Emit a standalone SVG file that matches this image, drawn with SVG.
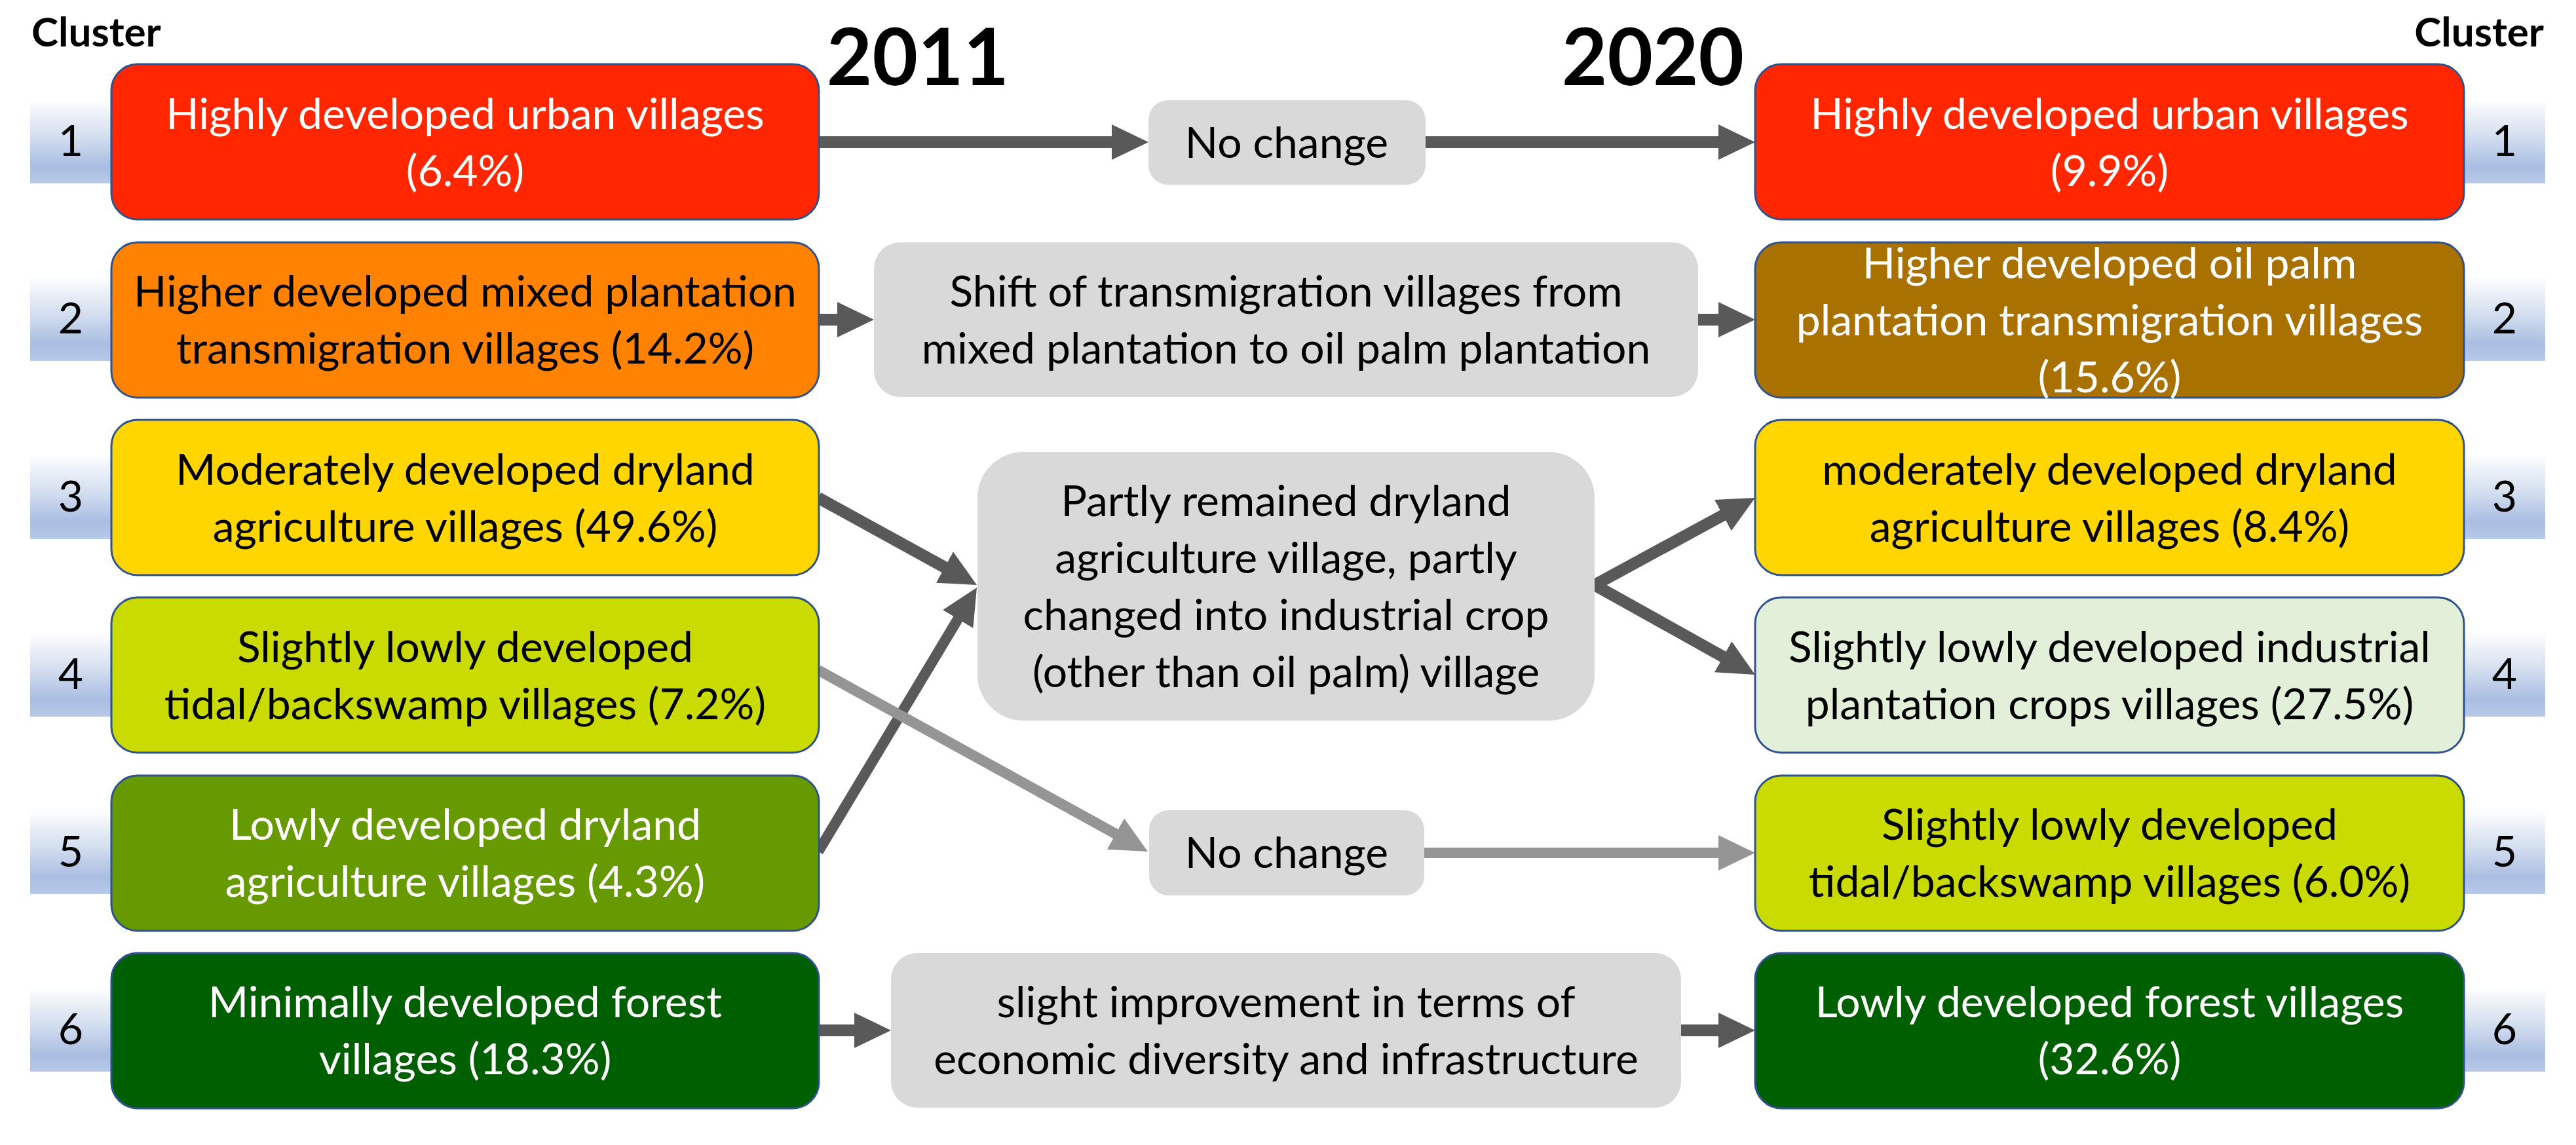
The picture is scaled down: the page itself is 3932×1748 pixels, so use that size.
<svg xmlns="http://www.w3.org/2000/svg" width="3932" height="1748" viewBox="0 0 3932 1748">
<defs>
<linearGradient id="tabg" x1="0" y1="0" x2="0" y2="1">
<stop offset="0" stop-color="#ffffff"/>
<stop offset="0.45" stop-color="#d3deef"/>
<stop offset="0.8" stop-color="#aabee2"/>
<stop offset="1" stop-color="#b8c9e8"/>
</linearGradient>
<marker id="hd" markerUnits="userSpaceOnUse" markerWidth="56" markerHeight="54" viewBox="0 0 56 54" refX="1" refY="27" orient="auto-start-reverse"><path d="M0,0 L56,27 L0,54 z" fill="#595959"/></marker>
<marker id="hl" markerUnits="userSpaceOnUse" markerWidth="56" markerHeight="54" viewBox="0 0 56 54" refX="1" refY="27" orient="auto-start-reverse"><path d="M0,0 L56,27 L0,54 z" fill="#959595"/></marker>
</defs>
<style>
.t{font-family:Lato,"Liberation Sans",sans-serif;font-size:66px;text-anchor:middle}
.w{fill:#ffffff}
.k{fill:#000000}
.box{stroke:#2f528f;stroke-width:3}
.mid{fill:#d9d9d9}
.tab{fill:url(#tabg)}
.num{font-family:Lato,"Liberation Sans",sans-serif;font-size:66px;text-anchor:middle;fill:#000}
.title{font-family:Lato,"Liberation Sans",sans-serif;font-weight:bold;font-size:120px;text-anchor:middle;fill:#000}
.cl{font-family:Lato,"Liberation Sans",sans-serif;font-weight:bold;font-size:62px;fill:#000}
.cd{stroke:#595959;stroke-width:18;fill:none;marker-end:url(#hd)}
.cl2{stroke:#959595;stroke-width:16;fill:none;marker-end:url(#hl)}
</style>
<rect width="3932" height="1748" fill="#ffffff"/>

<text class="cl" x="48" y="71">Cluster</text>
<text class="cl" x="3883" y="71" text-anchor="end">Cluster</text>
<text class="title" x="1401" y="130">2011</text>
<text class="title" x="2523" y="130">2020</text>

<g id="connectors">
<path class="cd" d="M1249,217 H1698"/>
<path class="cd" d="M2176,217 H2624"/>
<path class="cd" d="M1249,488 H1279"/>
<path class="cd" d="M2592,488 H2624"/>
<path class="cd" d="M1249,760 L1442.8,866.5"/>
<path class="cd" style="stroke-width:16" d="M1249,1300 L1462.7,944.2"/>
<path class="cl2" d="M1249,1023 L1703.8,1273.5"/>
<path class="cd" style="marker-start:url(#hd);stroke-linejoin:miter" d="M2630.7,786.2 L2434,893 L2631,1003.2"/>
<path class="cl2" d="M2174,1302 H2624"/>
<path class="cd" d="M1249,1573 H1305"/>
<path class="cd" d="M2566,1573 H2624"/>
</g>

<g id="tabs">
<rect class="tab" x="46" y="150" width="160" height="130"/>
<rect class="tab" x="46" y="421" width="160" height="130"/>
<rect class="tab" x="46" y="693" width="160" height="130"/>
<rect class="tab" x="46" y="964" width="160" height="130"/>
<rect class="tab" x="46" y="1235" width="160" height="130"/>
<rect class="tab" x="46" y="1506" width="160" height="130"/>
<rect class="tab" x="3725" y="150" width="160" height="130"/>
<rect class="tab" x="3725" y="421" width="160" height="130"/>
<rect class="tab" x="3725" y="693" width="160" height="130"/>
<rect class="tab" x="3725" y="964" width="160" height="130"/>
<rect class="tab" x="3725" y="1235" width="160" height="130"/>
<rect class="tab" x="3725" y="1506" width="160" height="130"/>
<text class="num" x="108" y="238">1</text>
<text class="num" x="108" y="509">2</text>
<text class="num" x="108" y="781">3</text>
<text class="num" x="108" y="1052">4</text>
<text class="num" x="108" y="1323">5</text>
<text class="num" x="108" y="1594">6</text>
<text class="num" x="3823" y="238">1</text>
<text class="num" x="3823" y="509">2</text>
<text class="num" x="3823" y="781">3</text>
<text class="num" x="3823" y="1052">4</text>
<text class="num" x="3823" y="1323">5</text>
<text class="num" x="3823" y="1594">6</text>
</g>

<g id="L1"><rect class="box" x="170" y="98" width="1080" height="237" rx="40" fill="#ff2600"/>
<text class="t w" x="710" y="197">Highly developed urban villages</text><text class="t w" x="710" y="284">(6.4%)</text></g>
<g id="L2"><rect class="box" x="170" y="370" width="1080" height="237" rx="40" fill="#ff8300"/>
<text class="t k" x="710" y="468">Higher developed mixed plantation</text><text class="t k" x="710" y="555">transmigration villages (14.2%)</text></g>
<g id="L3"><rect class="box" x="170" y="641" width="1080" height="237" rx="40" fill="#ffd600"/>
<text class="t k" x="710" y="740">Moderately developed dryland</text><text class="t k" x="710" y="827">agriculture villages (49.6%)</text></g>
<g id="L4"><rect class="box" x="170" y="912" width="1080" height="237" rx="40" fill="#c9db00"/>
<text class="t k" x="710" y="1011">Slightly lowly developed</text><text class="t k" x="710" y="1098">tidal/backswamp villages (7.2%)</text></g>
<g id="L5"><rect class="box" x="170" y="1184" width="1080" height="237" rx="40" fill="#669a00"/>
<text class="t w" x="710" y="1282">Lowly developed dryland</text><text class="t w" x="710" y="1369">agriculture villages (4.3%)</text></g>
<g id="L6"><rect class="box" x="170" y="1455" width="1080" height="237" rx="40" fill="#005f00"/>
<text class="t w" x="710" y="1553">Minimally developed forest</text><text class="t w" x="710" y="1640">villages (18.3%)</text></g>

<g id="C1"><rect class="mid" x="1753" y="153" width="423" height="129" rx="30"/>
<text class="t k" x="1964" y="241">No change</text></g>
<g id="C2"><rect class="mid" x="1334" y="370" width="1258" height="236" rx="40"/>
<text class="t k" x="1963" y="468">Shift of transmigration villages from</text><text class="t k" x="1963" y="555">mixed plantation to oil palm plantation</text></g>
<g id="C3"><rect class="mid" x="1492" y="690" width="942" height="410" rx="70"/>
<text class="t k" x="1963" y="788">Partly remained dryland</text><text class="t k" x="1963" y="875">agriculture village, partly</text><text class="t k" x="1963" y="962">changed into industrial crop</text><text class="t k" x="1963" y="1049">(other than oil palm) village</text></g>
<g id="C4"><rect class="mid" x="1754" y="1237" width="420" height="130" rx="30"/>
<text class="t k" x="1964" y="1325">No change</text></g>
<g id="C5"><rect class="mid" x="1360" y="1455" width="1206" height="236" rx="40"/>
<text class="t k" x="1963" y="1553">slight improvement in terms of</text><text class="t k" x="1963" y="1640">economic diversity and infrastructure</text></g>

<g id="R1"><rect class="box" x="2679" y="98" width="1082" height="237" rx="40" fill="#ff2600"/>
<text class="t w" x="3220" y="197">Highly developed urban villages</text><text class="t w" x="3220" y="284">(9.9%)</text></g>
<g id="R2"><rect class="box" x="2679" y="370" width="1082" height="237" rx="40" fill="#a97100"/>
<text class="t w" x="3220" y="425">Higher developed oil palm</text><text class="t w" x="3220" y="512">plantation transmigration villages</text><text class="t w" x="3220" y="599">(15.6%)</text></g>
<g id="R3"><rect class="box" x="2679" y="641" width="1082" height="237" rx="40" fill="#ffd600"/>
<text class="t k" x="3220" y="740">moderately developed dryland</text><text class="t k" x="3220" y="827">agriculture villages (8.4%)</text></g>
<g id="R4"><rect class="box" x="2679" y="912" width="1082" height="237" rx="40" fill="#e2efd9"/>
<text class="t k" x="3220" y="1011">Slightly lowly developed industrial</text><text class="t k" x="3220" y="1098">plantation crops villages (27.5%)</text></g>
<g id="R5"><rect class="box" x="2679" y="1184" width="1082" height="237" rx="40" fill="#c9db00"/>
<text class="t k" x="3220" y="1282">Slightly lowly developed</text><text class="t k" x="3220" y="1369">tidal/backswamp villages (6.0%)</text></g>
<g id="R6"><rect class="box" x="2679" y="1455" width="1082" height="237" rx="40" fill="#005f00"/>
<text class="t w" x="3220" y="1553">Lowly developed forest villages</text><text class="t w" x="3220" y="1640">(32.6%)</text></g>
</svg>
